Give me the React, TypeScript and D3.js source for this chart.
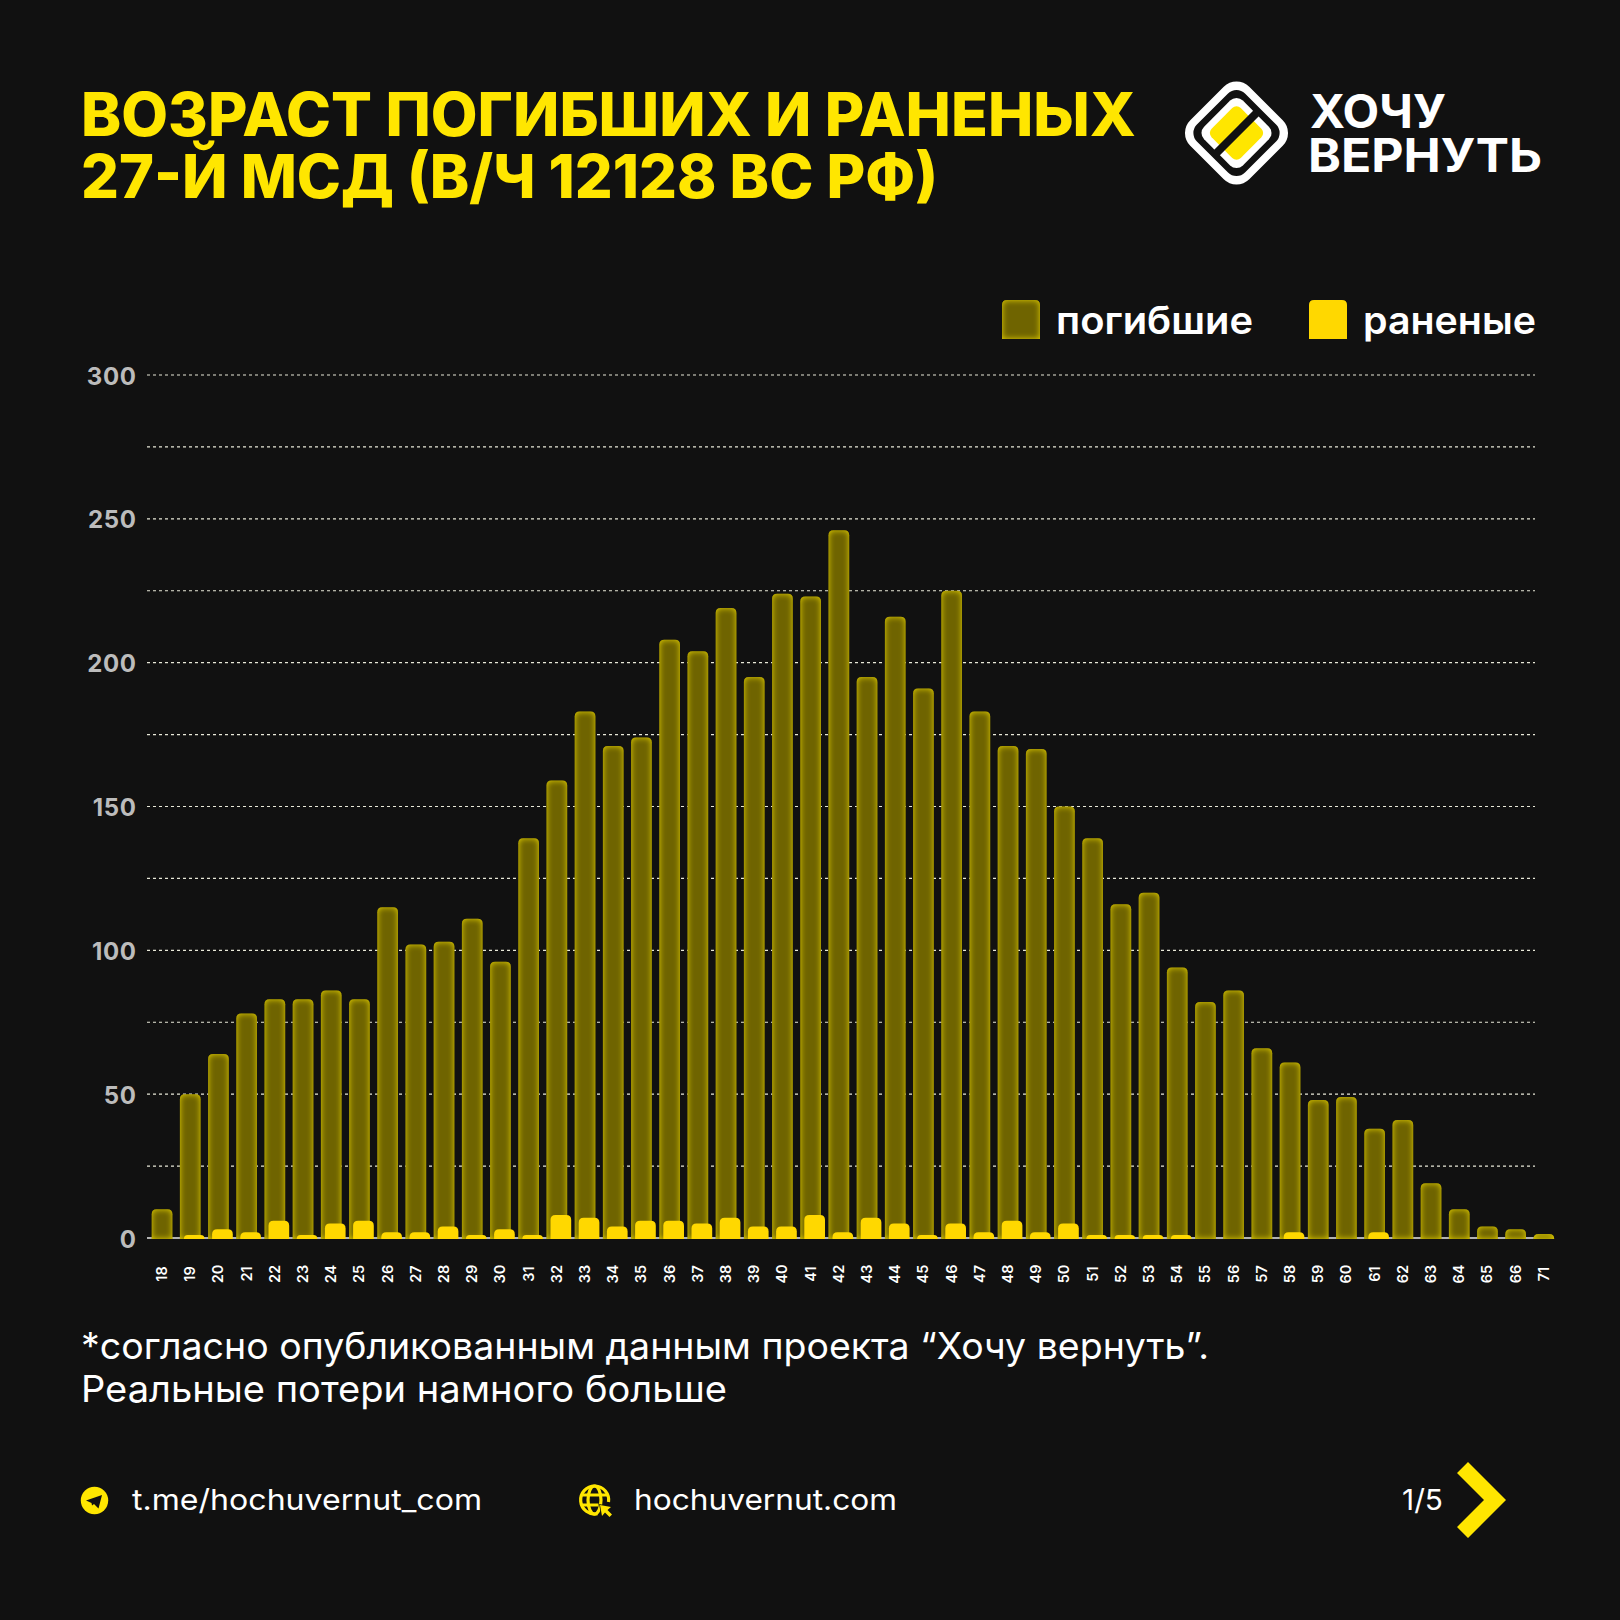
import { useEffect, useRef } from "react";
import * as d3 from "d3";

const ages = [
  "18", "19", "20", "21", "22", "23", "24", "25", "26", "27",
  "28", "29", "30", "31", "32", "33", "34", "35", "36", "37",
  "38", "39", "40", "41", "42", "43", "44", "45", "46", "47",
  "48", "49", "50", "51", "52", "53", "54", "55", "56", "57",
  "58", "59", "60", "61", "62", "63", "64", "65", "66", "71",
];
const killed = [
  10, 50, 64, 78, 83, 83, 86, 83, 115, 102,
  103, 111, 96, 139, 159, 183, 171, 174, 208, 204,
  219, 195, 224, 223, 246, 195, 216, 191, 225, 183,
  171, 170, 150, 139, 116, 120, 94, 82, 86, 66,
  61, 48, 49, 38, 41, 19, 10, 4, 3, 1.4,
];
const wounded = [
  0, 1, 3, 2, 6, 1, 5, 6, 2, 2,
  4, 1, 3, 1, 8, 7, 4, 6, 6, 5,
  7, 4, 4, 8, 2, 7, 5, 1, 5, 2,
  6, 2, 5, 1, 1, 1, 1, 0, 0, 0,
  2, 0, 0, 2, 0, 0, 0, 0, 0, 0,
];
const gridTicks = [0, 25, 50, 75, 100, 125, 150, 175, 200, 225, 250, 275, 300];
const labelTicks = [0, 50, 100, 150, 200, 250, 300];
const titleLines = ["ВОЗРАСТ ПОГИБШИХ И РАНЕНЫХ", "27-Й МСД (В/Ч 12128 ВС РФ)"];
const titleWidths = [1055, 857];
const noteLines = [
  "*согласно опубликованным данным проекта “Хочу вернуть”.",
  "Реальные потери намного больше",
];
const noteWidths = [1128, 646];

const BG = "#111111";
const YELLOW = "#ffe600";
const WOUNDED = "#ffd800";
const OLIVE = "#6f6400";
const FONT = "Inter, 'Noto Sans', sans-serif";

// flat bottom, rounded top
function barPath(x: number, y: number, w: number, y0: number, r: number) {
  const h = y0 - y;
  if (h <= 0) return "";
  const rr = Math.min(r, h, w / 2);
  return `M${x},${y0}V${y + rr}Q${x},${y} ${x + rr},${y}H${x + w - rr}Q${x + w},${y} ${x + w},${y + rr}V${y0}Z`;
}

export default function App() {
  const svgRef = useRef<SVGSVGElement>(null);

  useEffect(() => {
    if (!svgRef.current) return;
    document.body.style.margin = "0";
    document.body.style.background = BG;

    const svg = d3.select(svgRef.current);
    svg.selectAll("*").remove();

    svg.append("rect").attr("width", 1620).attr("height", 1620).attr("fill", BG);

    // Inner glow for the olive bars
    const defs = svg.append("defs");
    const glow = defs
      .append("filter")
      .attr("id", "inner-glow")
      .attr("filterUnits", "userSpaceOnUse")
      .attr("x", 0)
      .attr("y", 0)
      .attr("width", 1620)
      .attr("height", 1620)
      .attr("color-interpolation-filters", "sRGB");
    glow
      .append("feComponentTransfer")
      .attr("in", "SourceAlpha")
      .attr("result", "inv")
      .append("feFuncA")
      .attr("type", "table")
      .attr("tableValues", "1 0");
    glow.append("feGaussianBlur").attr("in", "inv").attr("stdDeviation", 3.2).attr("result", "blur");
    glow.append("feFlood").attr("flood-color", "#e6d200").attr("flood-opacity", 1).attr("result", "col");
    glow.append("feComposite").attr("in", "col").attr("in2", "blur").attr("operator", "in").attr("result", "edge");
    glow.append("feComposite").attr("in", "edge").attr("in2", "SourceAlpha").attr("operator", "in").attr("result", "inner");
    const merge = glow.append("feMerge");
    merge.append("feMergeNode").attr("in", "SourceGraphic");
    merge.append("feMergeNode").attr("in", "inner");

    // Scales
    const x = d3.scaleBand<string>().domain(ages).range([151.7, 1554.2]).paddingInner(0.266).paddingOuter(0);
    const y = d3.scaleLinear().domain([0, 300]).range([1238, 375]);
    const woundedShift = 4;

    // Title
    titleLines.forEach((t, i) => {
      svg
        .append("text")
        .attr("x", 81)
        .attr("y", 136 + i * 62)
        .attr("fill", YELLOW)
        .attr("font-family", FONT)
        .attr("font-size", 60)
        .attr("font-weight", 800)
        .attr("textLength", titleWidths[i])
        .attr("lengthAdjust", "spacingAndGlyphs")
        .text(t);
    });

    // Logo
    const logo = svg.append("g").attr("transform", "translate(1236.5,133) rotate(45)");
    logo.append("rect").attr("x", -41.7).attr("y", -41.7).attr("width", 83.4).attr("height", 83.4).attr("rx", 18).attr("fill", "#ffffff");
    logo.append("rect").attr("x", -34).attr("y", -34).attr("width", 68).attr("height", 68).attr("rx", 12).attr("fill", BG);
    logo.append("rect").attr("x", -27.4).attr("y", -27.4).attr("width", 54.8).attr("height", 54.8).attr("rx", 9).attr("fill", "#ffffff");
    logo.append("rect").attr("x", -20.6).attr("y", -20.6).attr("width", 41.2).attr("height", 41.2).attr("rx", 6).attr("fill", YELLOW);
    logo.append("rect").attr("x", -4).attr("y", -30).attr("width", 8).attr("height", 60).attr("fill", BG);
    [["ХОЧУ", 1310, 128, 136], ["ВЕРНУТЬ", 1308, 171.5, 234]].forEach(([t, tx, ty, tw]) => {
      svg
        .append("text")
        .attr("x", tx)
        .attr("y", ty)
        .attr("fill", "#ffffff")
        .attr("font-family", FONT)
        .attr("font-size", 46)
        .attr("font-weight", 700)
        .attr("textLength", tw)
        .attr("lengthAdjust", "spacingAndGlyphs")
        .text(t as string);
    });

    // Legend
    const legendItems = [
      { label: "погибшие", sx: 1002, tx: 1056, tw: 197, color: OLIVE, glow: true },
      { label: "раненые", sx: 1309, tx: 1363, tw: 173, color: WOUNDED, glow: false },
    ];
    legendItems.forEach((l) => {
      svg
        .append("path")
        .attr("d", barPath(l.sx, 300, 38, 339, 5))
        .attr("fill", l.color)
        .attr("filter", l.glow ? "url(#inner-glow)" : null);
      svg
        .append("text")
        .attr("x", l.tx)
        .attr("y", 334)
        .attr("fill", "#ffffff")
        .attr("font-family", FONT)
        .attr("font-size", 38)
        .attr("font-weight", 600)
        .attr("textLength", l.tw)
        .attr("lengthAdjust", "spacingAndGlyphs")
        .text(l.label);
    });

    // Grid
    svg
      .append("g")
      .selectAll("line")
      .data(gridTicks.filter((d) => d > 0))
      .join("line")
      .attr("x1", 147)
      .attr("x2", 1535)
      .attr("y1", (d) => y(d))
      .attr("y2", (d) => y(d))
      .attr("stroke", "#e8e8d8")
      .attr("stroke-width", 1.2)
      .attr("stroke-dasharray", "3,3");

    svg
      .append("line")
      .attr("x1", 147)
      .attr("x2", 1535)
      .attr("y1", y(0))
      .attr("y2", y(0))
      .attr("stroke", "#e8e8e8")
      .attr("stroke-width", 1.5);

    // Y labels
    svg
      .append("g")
      .selectAll("text")
      .data(labelTicks)
      .join("text")
      .attr("x", 136.5)
      .attr("y", (d) => y(d) + 9.5)
      .attr("text-anchor", "end")
      .attr("fill", "#bcbcbc")
      .attr("font-family", FONT)
      .attr("font-size", 24)
      .attr("font-weight", 700)
      .attr("letter-spacing", 0.6)
      .text((d) => d);

    // Bars
    svg
      .append("g")
      .selectAll("path")
      .data(ages)
      .join("path")
      .attr("d", (d, i) => barPath(x(d) ?? 0, y(killed[i]), x.bandwidth(), y(0) + 1, 5))
      .attr("fill", OLIVE)
      .attr("filter", "url(#inner-glow)");

    svg
      .append("g")
      .selectAll("path")
      .data(ages)
      .join("path")
      .attr("d", (d, i) =>
        wounded[i] > 0 ? barPath((x(d) ?? 0) + woundedShift, y(wounded[i]), x.bandwidth(), y(0) + 1, 5) : "",
      )
      .attr("fill", WOUNDED);

    // X labels
    svg
      .append("g")
      .selectAll("text")
      .data(ages)
      .join("text")
      .attr("transform", (d) => `translate(${(x(d) ?? 0) + x.bandwidth() / 2 + 5},1274) rotate(-90)`)
      .attr("text-anchor", "middle")
      .attr("fill", "#ffffff")
      .attr("font-family", FONT)
      .attr("font-size", 14.5)
      .attr("font-weight", 600)
      .text((d) => d);

    // Footnote
    noteLines.forEach((t, i) => {
      svg
        .append("text")
        .attr("x", 81)
        .attr("y", 1359 + i * 43)
        .attr("fill", "#ffffff")
        .attr("font-family", FONT)
        .attr("font-size", 37)
        .attr("font-weight", 400)
        .attr("textLength", noteWidths[i])
        .attr("lengthAdjust", "spacingAndGlyphs")
        .text(t);
    });

    // Footer
    const footerText = (t: string, tx: number, tw: number) =>
      svg
        .append("text")
        .attr("x", tx)
        .attr("y", 1510)
        .attr("fill", "#ffffff")
        .attr("font-family", FONT)
        .attr("font-size", 29)
        .attr("font-weight", 400)
        .attr("textLength", tw)
        .attr("lengthAdjust", "spacingAndGlyphs")
        .text(t);
    footerText("t.me/hochuvernut_com", 132, 350);
    footerText("hochuvernut.com", 634, 263);
    footerText("1/5", 1402, 41);

    // Telegram icon
    const tg = svg.append("g").attr("transform", "translate(94.5,1500.5)");
    tg.append("circle").attr("r", 13.7).attr("fill", YELLOW);
    tg.append("path").attr("d", "M-8.5,0 L7.5,-5.5 L4,8 L-0.5,3.5 L-2.5,5 L-3,2.5 Z").attr("fill", BG);

    // Globe icon
    const globe = svg.append("g").attr("transform", "translate(594.5,1500)").attr("fill", "none").attr("stroke", YELLOW).attr("stroke-width", 3.2);
    globe.append("path").attr("d", "M3,13.7 A14,14 0 1 1 14,2");
    globe.append("ellipse").attr("rx", 6.5).attr("ry", 14);
    globe.append("path").attr("d", "M-13.5,-5 H13.5 M-13.5,5 H4");
    svg
      .append("path")
      .attr("d", "M600,1505 L611,1507 L607.5,1510 L612,1514.5 L609.5,1517 L605,1512.5 L602,1516 Z")
      .attr("fill", YELLOW)
      .attr("stroke", BG)
      .attr("stroke-width", 1.5)
      .attr("paint-order", "stroke");

    // Chevron
    svg
      .append("path")
      .attr("d", "M1457,1473 L1468,1462 L1506,1500 L1468,1538 L1457,1527 L1484,1500 Z")
      .attr("fill", YELLOW);
  }, []);

  return <svg ref={svgRef} width={1620} height={1620} style={{ display: "block" }} />;
}
